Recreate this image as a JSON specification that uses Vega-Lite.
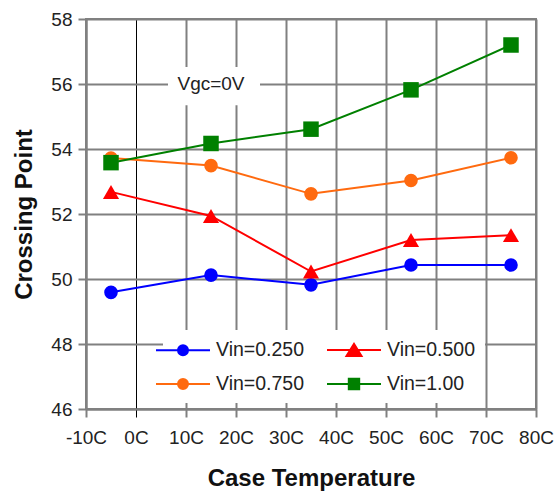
{
  "$schema": "https://vega.github.io/schema/vega-lite/v6.json",
  "width": 450,
  "height": 390,
  "autosize": "none",
  "padding": {"left": 86, "top": 19, "right": 21, "bottom": 84},
  "background": "white",
  "config": {
    "font": "Liberation Sans",
    "view": {"stroke": "#808080", "strokeWidth": 2},
    "legend": {"symbolFillColor": "white"},
    "axis": {
      "domainColor": "#808080",
      "domainWidth": 2,
      "tickColor": "#808080",
      "tickWidth": 2,
      "tickSize": 8,
      "labelFontSize": 19,
      "labelColor": "#222222",
      "labelFlush": false,
      "labelOverlap": false,
      "titleFontSize": 24,
      "titleFontWeight": "bold",
      "titleColor": "#111111",
      "grid": true,
      "gridColor": "#808080",
      "gridWidth": 2,
      "gridOpacity": 1
    }
  },
  "data": {
    "values": [
      {"series": "Vin=0.500", "temp": -5, "crossing": 52.68},
      {"series": "Vin=0.500", "temp": 15, "crossing": 51.94},
      {"series": "Vin=0.500", "temp": 35, "crossing": 50.23},
      {"series": "Vin=0.500", "temp": 55, "crossing": 51.2},
      {"series": "Vin=0.500", "temp": 75, "crossing": 51.35},
      {"series": "Vin=0.250", "temp": -5, "crossing": 49.59},
      {"series": "Vin=0.250", "temp": 15, "crossing": 50.12},
      {"series": "Vin=0.250", "temp": 35, "crossing": 49.82},
      {"series": "Vin=0.250", "temp": 55, "crossing": 50.43},
      {"series": "Vin=0.250", "temp": 75, "crossing": 50.43},
      {"series": "Vin=0.750", "temp": -5, "crossing": 53.72},
      {"series": "Vin=0.750", "temp": 15, "crossing": 53.49},
      {"series": "Vin=0.750", "temp": 35, "crossing": 52.62},
      {"series": "Vin=0.750", "temp": 55, "crossing": 53.03},
      {"series": "Vin=0.750", "temp": 75, "crossing": 53.73},
      {"series": "Vin=1.00", "temp": -5, "crossing": 53.58},
      {"series": "Vin=1.00", "temp": 15, "crossing": 54.17},
      {"series": "Vin=1.00", "temp": 35, "crossing": 54.61},
      {"series": "Vin=1.00", "temp": 55, "crossing": 55.82},
      {"series": "Vin=1.00", "temp": 75, "crossing": 57.2}
    ]
  },
  "layer": [
    {
      "mark": {"type": "point", "filled": true, "opacity": 0},
      "encoding": {
        "x": {
          "field": "temp",
          "type": "quantitative",
          "scale": {"domain": [-10, 80], "nice": false, "zero": false},
          "axis": {
            "values": [-10, 0, 10, 20, 30, 40, 50, 60, 70, 80],
            "labelExpr": "datum.value + 'C'",
            "title": "Case Temperature",
            "labelPadding": 11,
            "titlePadding": 19,
            "gridColor": {"condition": {"test": "datum.value === 0", "value": "#000000"}, "value": "#808080"},
            "gridWidth": {"condition": {"test": "datum.value === 0", "value": 1}, "value": 2},
            "tickColor": {"condition": {"test": "datum.value === 0", "value": "#000000"}, "value": "#808080"},
            "tickWidth": {"condition": {"test": "datum.value === 0", "value": 1}, "value": 2}
          }
        },
        "y": {
          "field": "crossing",
          "type": "quantitative",
          "scale": {"domain": [46, 58], "nice": false, "zero": false},
          "axis": {
            "values": [46, 48, 50, 52, 54, 56, 58],
            "title": "Crossing Point",
            "labelPadding": 6,
            "titlePadding": 14
          }
        },
        "fill": {
          "field": "series",
          "type": "nominal",
          "scale": {
            "domain": ["Vin=0.250", "Vin=0.750", "Vin=0.500", "Vin=1.00"],
            "range": ["#0000FF", "#FF6A0F", "#FF0000", "#008000"]
          },
          "legend": {
            "title": null,
            "orient": "none",
            "legendX": 77,
            "legendY": 311,
            "columns": 2,
            "fillColor": "white",
            "padding": 9,
            "symbolSize": 400,
            "symbolStrokeWidth": 2,
            "symbolOpacity": 1,
            "labelFontSize": 19.5,
            "labelColor": "#222222",
            "labelOffset": 22,
            "columnPadding": 18,
            "rowPadding": 13
          }
        },
        "stroke": {
          "field": "series",
          "type": "nominal",
          "scale": {
            "domain": ["Vin=0.250", "Vin=0.750", "Vin=0.500", "Vin=1.00"],
            "range": ["#0000FF", "#FF6A0F", "#FF0000", "#008000"]
          }
        },
        "shape": {
          "field": "series",
          "type": "nominal",
          "scale": {
            "domain": ["Vin=0.250", "Vin=0.750", "Vin=0.500", "Vin=1.00"],
            "range": [
              "M-2.7,0H2.7M0.5,0A0.5,0.5,0,1,1,-0.5,0A0.5,0.5,0,1,1,0.5,0Z",
              "M-2.7,0H2.7M0.5,0A0.5,0.5,0,1,1,-0.5,0A0.5,0.5,0,1,1,0.5,0Z",
              "M-2.7,0H2.7M-0.75,0.6L0.75,0.6L0,-0.6Z",
              "M-2.7,0H2.7M-0.52,-0.52H0.52V0.52H-0.52Z"
            ]
          }
        }
      }
    },
    {
      "mark": {"type": "line", "strokeWidth": 2},
      "encoding": {
        "x": {"field": "temp", "type": "quantitative"},
        "y": {"field": "crossing", "type": "quantitative"},
        "stroke": {"field": "series", "type": "nominal"}
      }
    },
    {
      "transform": [{"filter": {"field": "series", "oneOf": ["Vin=0.250", "Vin=0.750"]}}],
      "mark": {"type": "point", "filled": true, "opacity": 1, "shape": "circle", "size": 185},
      "encoding": {
        "x": {"field": "temp", "type": "quantitative"},
        "y": {"field": "crossing", "type": "quantitative"},
        "fill": {"field": "series", "type": "nominal"}
      }
    },
    {
      "transform": [{"filter": {"field": "series", "equal": "Vin=0.500"}}],
      "mark": {"type": "point", "filled": true, "opacity": 1, "shape": "triangle-up", "size": 260},
      "encoding": {
        "x": {"field": "temp", "type": "quantitative"},
        "y": {"field": "crossing", "type": "quantitative"},
        "fill": {"field": "series", "type": "nominal"}
      }
    },
    {
      "transform": [{"filter": {"field": "series", "equal": "Vin=1.00"}}],
      "mark": {"type": "point", "filled": true, "opacity": 1, "shape": "square", "size": 240},
      "encoding": {
        "x": {"field": "temp", "type": "quantitative"},
        "y": {"field": "crossing", "type": "quantitative"},
        "fill": {"field": "series", "type": "nominal"}
      }
    },
    {
      "data": {"values": [{}]},
      "mark": {"type": "rect", "color": "white"},
      "encoding": {
        "x": {"datum": 6.4, "type": "quantitative"},
        "x2": {"datum": 24.8},
        "y": {"datum": 55.35, "type": "quantitative"},
        "y2": {"datum": 56.52}
      }
    },
    {
      "data": {"values": [{}]},
      "mark": {"type": "text", "fontSize": 19, "color": "#222222"},
      "encoding": {
        "x": {"datum": 15, "type": "quantitative"},
        "y": {"datum": 56, "type": "quantitative"},
        "text": {"value": "Vgc=0V"}
      }
    }
  ]
}
